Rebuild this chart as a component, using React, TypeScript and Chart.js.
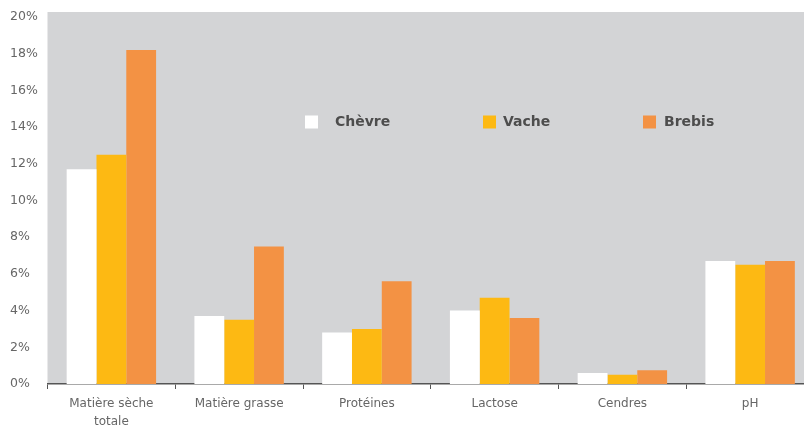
import React, { useEffect, useRef } from "react";
import { Chart, registerables } from "chart.js";

Chart.register(...registerables);

const categories: (string | string[])[] = [
  ["Matière sèche", "totale"],
  "Matière grasse",
  "Protéines",
  "Lactose",
  "Cendres",
  "pH",
];
const seriesNames = ["Chèvre", "Vache", "Brebis"];
const chevre = [11.7, 3.7, 2.8, 4.0, 0.6, 6.7];
const vache = [12.5, 3.5, 3.0, 4.7, 0.5, 6.5];
const brebis = [18.2, 7.5, 5.6, 3.6, 0.75, 6.7];
const yMin = 0;
const yMax = 20;
const yStep = 2;

const colors = ["#ffffff", "#fdb913", "#f39244"];
const bgGray = "#d3d4d6";
const textColor = "#666666";
const fontFamily = "'DejaVu Sans', sans-serif";

const bgPlugin = {
  id: "bgPlugin",
  beforeDraw(chart: any) {
    const { ctx, chartArea } = chart;
    ctx.save();
    ctx.fillStyle = bgGray;
    ctx.fillRect(
      chartArea.left,
      chartArea.top - 5,
      chartArea.right - chartArea.left,
      chartArea.bottom - chartArea.top + 5
    );
    ctx.restore();
  },
};

const legendBoxX = [305, 483, 643];
const legendTextX = [335, 503, 664];
const legendY = 122;

const legendPlugin = {
  id: "innerLegend",
  afterDraw(chart: any) {
    const { ctx } = chart;
    ctx.save();
    chart.data.datasets.forEach((ds: any, i: number) => {
      ctx.fillStyle = ds.backgroundColor;
      ctx.fillRect(legendBoxX[i], legendY - 6.5, 13, 13);
      ctx.fillStyle = "#4d4d4d";
      ctx.font = `bold 14px ${fontFamily}`;
      ctx.textBaseline = "middle";
      ctx.textAlign = "left";
      ctx.fillText(ds.label, legendTextX[i], legendY);
    });
    ctx.restore();
  },
};

export default function App() {
  const ref = useRef<HTMLCanvasElement>(null);
  useEffect(() => {
    document.body.style.margin = "0";
    document.body.style.overflow = "hidden";
    const chart = new Chart(ref.current as HTMLCanvasElement, {
      type: "bar",
      data: {
        labels: categories as any,
        datasets: [chevre, vache, brebis].map((d, i) => ({
          label: seriesNames[i],
          data: d,
          backgroundColor: colors[i],
          borderWidth: 0,
          barPercentage: 1,
          categoryPercentage: 0.7,
        })),
      },
      options: {
        responsive: false,
        animation: false,
        devicePixelRatio: 1,
        layout: { padding: { top: 17, right: 16, left: 10, bottom: 0 } },
        plugins: { legend: { display: false }, tooltip: { enabled: false } },
        scales: {
          x: {
            grid: {
              display: true,
              drawOnChartArea: false,
              drawTicks: true,
              tickLength: 5,
              color: "#555",
              offset: true,
            },
            border: { display: true, color: "#555", width: 1.5 },
            ticks: {
              font: { family: fontFamily, size: 12, lineHeight: 1.5 },
              color: textColor,
              padding: 6,
              maxRotation: 0,
              autoSkip: false,
            },
            afterFit: (s: any) => {
              s.height = 50;
            },
          },
          y: {
            min: yMin,
            max: yMax,
            ticks: {
              stepSize: yStep,
              callback: (v: any) => v + "%",
              crossAlign: "far",
              font: { family: fontFamily, size: 12.5 },
              color: textColor,
              padding: 0,
            },
            grid: { display: false },
            border: { display: false },
            afterFit: (s: any) => {
              s.width = 37.5;
            },
          },
        },
      } as any,
      plugins: [bgPlugin, legendPlugin],
    });
    return () => chart.destroy();
  }, []);
  return (
    <div style={{ width: 804, height: 434, overflow: "hidden" }}>
      <canvas ref={ref} width={830} height={434} style={{ display: "block" }} />
    </div>
  );
}
